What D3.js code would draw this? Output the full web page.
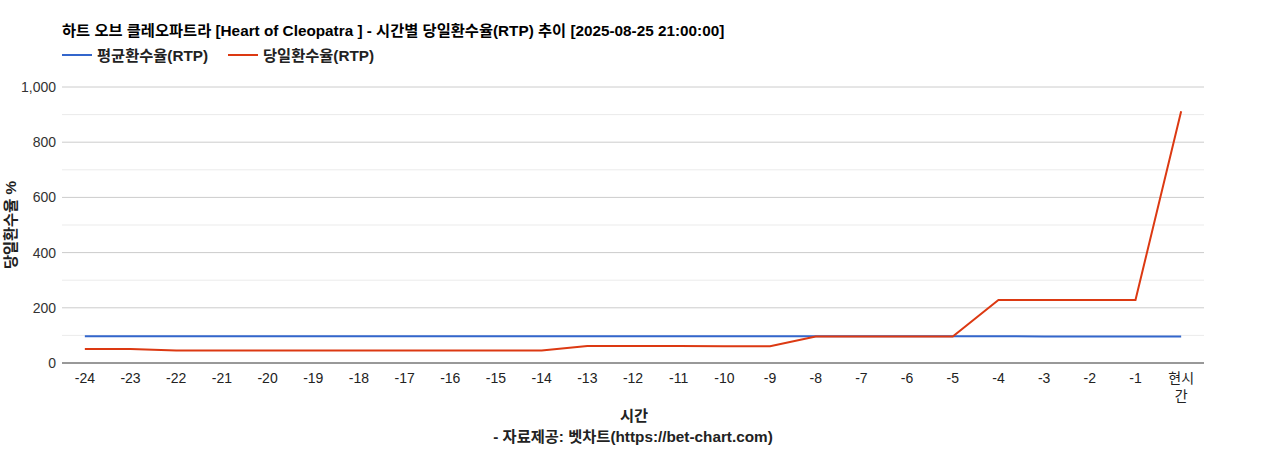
<!DOCTYPE html>
<html><head><meta charset="utf-8">
<script src="https://cdn.jsdelivr.net/npm/d3@7"></script>
<style>
body{margin:0;background:#fff;}
svg text{font-family:Arial,"Liberation Sans","Noto Sans CJK KR",sans-serif;}
</style></head>
<body><svg id="c" width="1268" height="450"></svg>
<script>
const categories = ["-24","-23","-22","-21","-20","-19","-18","-17","-16","-15","-14","-13","-12","-11","-10","-9","-8","-7","-6","-5","-4","-3","-2","-1","현시간"];
const avgRTP = [96.5,96.5,96.5,96.6,96.7,96.7,96.7,96.7,96.7,96.7,96.8,96.8,96.8,96.8,96.8,96.8,96.8,96.8,96.8,96.8,96.6,96.3,96.3,96.3,96.3];
const dailyRTP = [51,51,45,45,45,45,45,45,45,45,45,62,62,62,61,61,96,96,96,96,228,228,228,228,912];
const yTicks = [0,200,400,600,800,1000];
const yMinor = [100,300,500,700,900];
const titleText = "하트 오브 클레오파트라 [Heart of Cleopatra ] - 시간별 당일환수율(RTP) 추이 [2025-08-25 21:00:00]";
const seriesNames = ["평균환수율(RTP)","당일환수율(RTP)"];
const colors = ["#3366cc","#dc3912"];

const svg = d3.select("#c");
const L=62,R=1204,T=87,B=363;
const x = d3.scaleBand().domain(categories).range([L,R]);
const y = d3.scaleLinear().domain([0,1000]).range([B,T]);
const cx = d => x(d)+x.bandwidth()/2;
const BF = 15.3;

svg.append("text").attr("x",62).attr("y",36).attr("font-size",BF).attr("font-weight","bold").attr("fill","#000").text(titleText);

// legend
const lg = [{x:62,t:seriesNames[0],c:colors[0]},{x:228,t:seriesNames[1],c:colors[1]}];
lg.forEach(o=>{
  svg.append("line").attr("x1",o.x).attr("x2",o.x+30).attr("y1",55).attr("y2",55).attr("stroke",o.c).attr("stroke-width",2);
  svg.append("text").attr("x",o.x+35).attr("y",60.5).attr("font-size",BF).attr("font-weight","bold").attr("fill","#222").text(o.t);
});

// gridlines
svg.append("g").selectAll("line").data(yMinor).join("line")
  .attr("x1",L).attr("x2",R).attr("y1",d=>y(d)).attr("y2",d=>y(d)).attr("stroke","#ebebeb").attr("stroke-width",1);
svg.append("g").selectAll("line").data(yTicks.filter(d=>d>0)).join("line")
  .attr("x1",L).attr("x2",R).attr("y1",d=>y(d)).attr("y2",d=>y(d)).attr("stroke","#cccccc").attr("stroke-width",1);

// y axis labels
const yAxis = d3.axisLeft(y).tickValues(yTicks).tickSize(0).tickPadding(6).tickFormat(d3.format(","));
const gy = svg.append("g").attr("transform",`translate(${L},0)`).call(yAxis);
gy.select(".domain").remove();
gy.selectAll("text").attr("font-size",14).attr("fill","#333").attr("font-family",null);

// x axis
const xAxis = d3.axisBottom(x).tickSize(0).tickPadding(10);
const gx = svg.append("g").attr("transform",`translate(0,${B})`).call(xAxis);
gx.select(".domain").remove();
gx.selectAll("text").attr("font-size",14).attr("fill","#222").attr("font-family",null);
gx.selectAll(".tick text").filter(d=>d==="현시간").each(function(){
  const t=d3.select(this); t.text(null);
  t.append("tspan").attr("x",0).attr("dy","0.71em").text("현시");
  t.append("tspan").attr("x",0).attr("dy","1.3em").text("간");
});
svg.append("line").attr("x1",L).attr("x2",R).attr("y1",B).attr("y2",B).attr("stroke","#333").attr("stroke-width",1);

// lines
const line = d3.line().x((d,i)=>cx(categories[i])).y(d=>y(d));
svg.append("path").datum(avgRTP).attr("d",line).attr("fill","none").attr("stroke",colors[0]).attr("stroke-width",2);
svg.append("path").datum(dailyRTP).attr("d",line).attr("fill","none").attr("stroke",colors[1]).attr("stroke-width",2);

// axis titles
svg.append("text").attr("transform",`translate(16,${(T+B)/2}) rotate(-90)`).attr("text-anchor","middle")
  .attr("font-size",BF).attr("font-weight","bold").attr("fill","#222").text("당일환수율 %");
svg.append("text").attr("x",(L+R)/2+1).attr("y",421).attr("text-anchor","middle").attr("font-size",BF).attr("font-weight","bold").attr("fill","#222").text("시간");
svg.append("text").attr("x",(L+R)/2).attr("y",442).attr("text-anchor","middle").attr("font-size",BF).attr("font-weight","bold").attr("fill","#222").text("- 자료제공: 벳차트(https://bet-chart.com)");
</script></body></html>
